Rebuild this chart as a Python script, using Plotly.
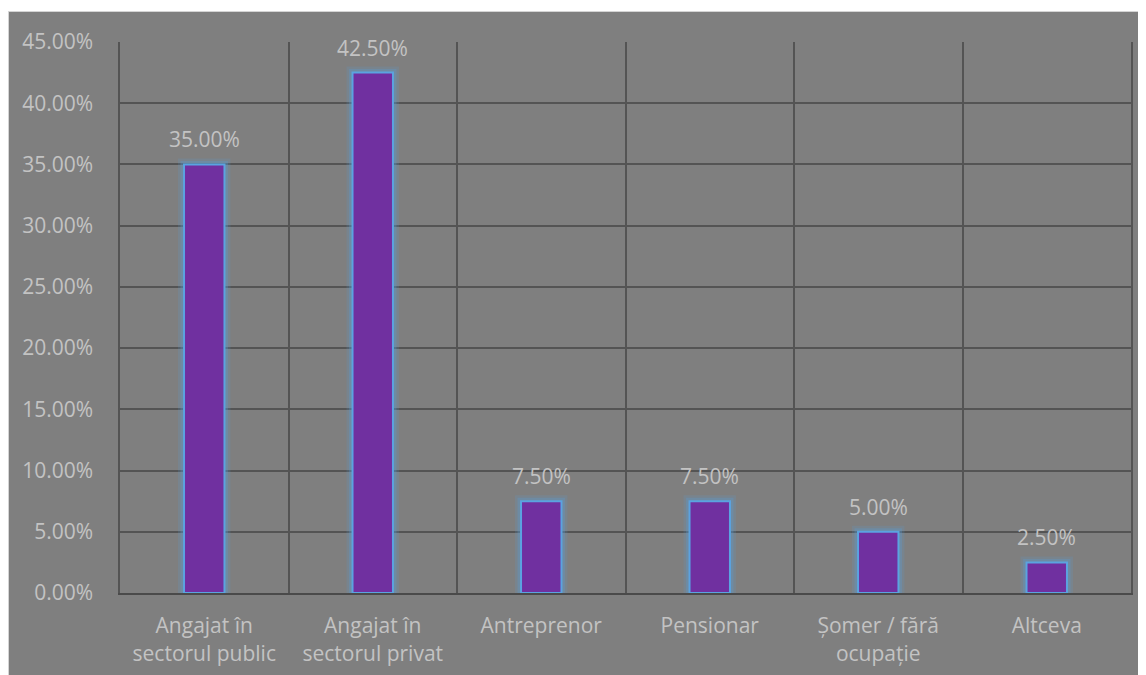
import plotly.graph_objects as go

categories = ["Angajat în<br>sectorul public", "Angajat în<br>sectorul privat", "Antreprenor",
              "Pensionar", "Șomer / fără<br>ocupație", "Altceva"]
values = [0.35, 0.425, 0.075, 0.075, 0.05, 0.025]
y_ticks = [0, 0.05, 0.10, 0.15, 0.20, 0.25, 0.30, 0.35, 0.40, 0.45]

W, H = 1138, 667
L, R, T, B = 112, 15, 34, 82
pw, ph = W - L - R, H - T - B

BG = "#7f7f7f"
GRID = "#545454"
TXT = "#c3c3c3"
FONT = "Open Sans"
FS = 21

xs = list(range(len(categories)))

fig = go.Figure()
# glow layers
for lw, a in [(12, 0.18), (7, 0.3)]:
    fig.add_trace(go.Bar(
        x=xs, y=values, width=0.24,
        marker=dict(color="rgba(0,0,0,0)", line=dict(color=f"rgba(91,155,213,{a})", width=lw)),
        hoverinfo="skip", showlegend=False, cliponaxis=False))
# main bars
fig.add_trace(go.Bar(
    x=xs, y=values, width=0.24,
    marker=dict(color="#7030a0", line=dict(color="#5ba3e0", width=2)),
    showlegend=False))

annotations = [dict(x=x, y=v, xref="x", yref="y", text=f"{v*100:.2f}%",
                    showarrow=False, yanchor="bottom", yshift=9,
                    font=dict(color=TXT, size=FS, family=FONT))
               for x, v in zip(xs, values)]

fig.update_layout(
    width=W, height=H,
    margin=dict(l=L, r=R, t=T, b=B, autoexpand=False),
    paper_bgcolor="white", plot_bgcolor=BG,
    barmode="overlay",
    font=dict(family=FONT, color=TXT, size=FS),
    annotations=annotations,
    shapes=[dict(type="rect", xref="paper", yref="paper",
                 x0=(0.5 - L) / pw, x1=(W + 5 - L) / pw,
                 y0=(T + ph - H - 5) / ph, y1=(T + ph - 3.5) / ph,
                 fillcolor=BG, line=dict(color="#d4d4d4", width=1), layer="below")],
)
fig.update_xaxes(
    range=[-0.5, len(categories) - 0.5], automargin=False,
    tickmode="array", tickvals=xs, ticktext=categories,
    showgrid=False, zeroline=False, ticks="", ticklabelstandoff=13,
    minor=dict(tickmode="linear", tick0=-0.5, dtick=1, showgrid=True,
               gridcolor=GRID, gridwidth=1.5, ticks=""),
    showline=True, linecolor="#4a4a4a", linewidth=2,
    tickfont=dict(color=TXT, size=FS, family=FONT),
)
fig.update_yaxes(
    range=[0, 0.45], tickvals=y_ticks, tickformat=".2%", automargin=False,
    showgrid=True, gridcolor=GRID, gridwidth=1.5, zeroline=False,
    showline=True, mirror=True, linecolor=GRID, linewidth=1.5,
    ticks="", ticklabelstandoff=21,
    tickfont=dict(color=TXT, size=FS, family=FONT),
)
fig.write_html("out.html")
